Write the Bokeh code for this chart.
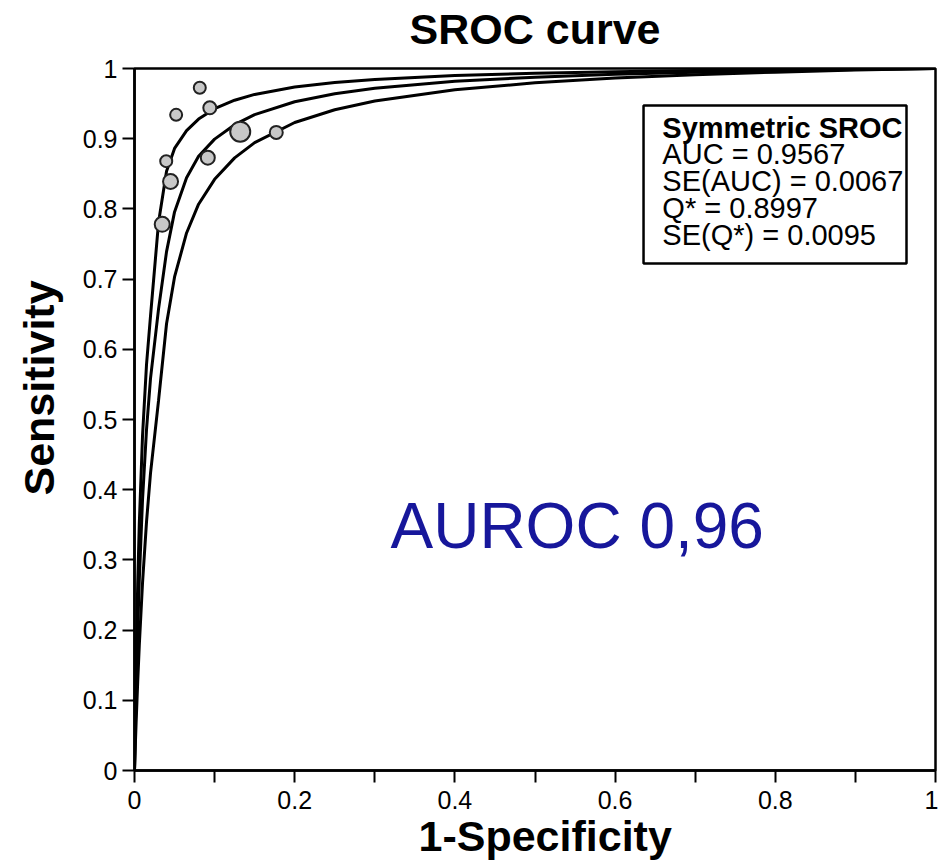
from bokeh.plotting import figure
from bokeh.models import (Range1d, FixedTicker, Label, BoxAnnotation, ColumnDataSource, Title,
                          LinearAxis)
from bokeh.embed import file_html
from bokeh.resources import INLINE

# ---- data ----
curve_fpr = [0, 0.001, 0.002, 0.004, 0.006, 0.01, 0.015, 0.02, 0.03, 0.04, 0.05, 0.065,
             0.08, 0.1, 0.125, 0.15, 0.2, 0.25, 0.3, 0.4, 0.5, 0.6, 0.7, 0.8, 0.9, 1.0]
upper_sens = [0, 0.0826, 0.1528, 0.2655, 0.3520, 0.4762, 0.5782, 0.6475, 0.7805, 0.8537,
              0.8862, 0.9114, 0.9279, 0.9427, 0.9548, 0.9631, 0.9737, 0.9801, 0.9845,
              0.9900, 0.9933, 0.9955, 0.9971, 0.9983, 0.9993, 1.0]
mid_sens = [0, 0.0584, 0.1105, 0.1994, 0.2723, 0.3851, 0.4856, 0.5586, 0.6572, 0.7391,
            0.7957, 0.8443, 0.8750, 0.8994, 0.9200, 0.9342, 0.9527, 0.9641, 0.9718,
            0.9817, 0.9877, 0.9918, 0.9947, 0.9969, 0.9986, 1.0]
lower_sens = [0, 0.0348, 0.0673, 0.1263, 0.1785, 0.2667, 0.3541, 0.4235, 0.5268, 0.6364,
              0.7031, 0.7657, 0.8067, 0.8421, 0.8727, 0.8944, 0.9231, 0.9412, 0.9536,
              0.9697, 0.9796, 0.9863, 0.9912, 0.9948, 0.9977, 1.0]

study_fpr = [0.0815, 0.094, 0.052, 0.132, 0.177, 0.0396, 0.0915, 0.045, 0.0346]
study_sens = [0.9725, 0.944, 0.934, 0.910, 0.909, 0.868, 0.873, 0.839, 0.778]
study_weight = [12, 13, 12, 20, 13, 12, 14, 15, 15]

x_ticks = [0, 0.2, 0.4, 0.6, 0.8, 1]
x_tick_labels = ["0", "0.2", "0.4", "0.6", "0.8", "1"]
x_minor_ticks = [0.1, 0.3, 0.5, 0.7, 0.9]
y_ticks = [0, 0.1, 0.2, 0.3, 0.4, 0.5, 0.6, 0.7, 0.8, 0.9, 1]
y_tick_labels = ["0", "0.1", "0.2", "0.3", "0.4", "0.5", "0.6", "0.7", "0.8", "0.9", "1"]

chart_title = "SROC curve"
x_label = "1-Specificity"
y_label = "Sensitivity"
legend_title = "Symmetric SROC"
legend_lines = ["AUC = 0.9567", "SE(AUC) = 0.0067", "Q* = 0.8997", "SE(Q*) = 0.0095"]
note_text = "AUROC 0,96"

FONT = "Liberation Sans"

p = figure(width=938, height=868, x_range=Range1d(0, 1), y_range=Range1d(0, 1),
           output_backend="svg", toolbar_location=None,
           min_border_left=134, min_border_right=3, min_border_top=68, min_border_bottom=98)

p.grid.visible = False
p.background_fill_color = "white"
p.border_fill_color = "white"
p.outline_line_color = "black"
p.outline_line_width = 2.5
p.outline_line_alpha = 1

for ax in (p.xaxis[0], p.yaxis[0]):
    ax.axis_line_width = 2.5
    ax.axis_line_color = "black"
    ax.major_tick_line_width = 2
    ax.minor_tick_line_width = 2
    ax.major_tick_line_color = "black"
    ax.minor_tick_line_color = "black"
    ax.major_tick_out = 12
    ax.major_tick_in = 0
    ax.minor_tick_out = 12
    ax.minor_tick_in = 0
    ax.major_label_text_font = FONT
    ax.major_label_text_font_size = "25px"
    ax.major_label_text_color = "black"

p.xaxis.ticker = FixedTicker(ticks=x_ticks, minor_ticks=x_minor_ticks)
p.xaxis.major_label_overrides = dict(zip(x_ticks, x_tick_labels))
p.xaxis.major_label_standoff = 8
p.yaxis.ticker = FixedTicker(ticks=y_ticks, minor_ticks=[])
p.yaxis.major_label_overrides = dict(zip(y_ticks, y_tick_labels))
p.yaxis.major_label_standoff = 5

# chart title: carried by a tick-less axis above the frame (fine control of its height)
title_axis = LinearAxis(ticker=FixedTicker(ticks=[], minor_ticks=[]), axis_label=chart_title,
                        axis_line_color=None, major_tick_out=0, major_tick_in=0,
                        minor_tick_out=0, minor_tick_in=0, major_label_text_font_size="0px",
                        major_label_standoff=0, axis_label_standoff=16,
                        axis_label_text_font=FONT, axis_label_text_font_size="43px",
                        axis_label_text_font_style="bold", axis_label_text_color="black")
p.add_layout(title_axis, "above")

# axis titles as side titles so they can be offset like in the reference
p.add_layout(Title(text=x_label, align="left", vertical_align="top", offset=284, standoff=0,
                   text_font=FONT, text_font_size="43px", text_font_style="bold",
                   text_color="black"), "below")
p.add_layout(Title(text=y_label, align="left", vertical_align="top", offset=275, standoff=29,
                   text_font=FONT, text_font_size="43px", text_font_style="bold",
                   text_color="black"), "left")

curves = ColumnDataSource(dict(x=curve_fpr, up=upper_sens, mid=mid_sens, lo=lower_sens))
for col in ("up", "mid", "lo"):
    p.line("x", col, source=curves, line_color="black", line_width=3)

pts = ColumnDataSource(dict(x=study_fpr, y=study_sens, s=study_weight))
p.scatter("x", "y", size="s", source=pts, fill_color="#c8c8c8", line_color="#222222",
          line_width=2)

# statistics box
p.add_layout(BoxAnnotation(left=0.6355, right=0.9638, top=0.9473, bottom=0.7222,
                           fill_alpha=0, line_color="black", line_alpha=1, line_width=2.5))
p.add_layout(Label(x=0.659, y=0.9152, text=legend_title, text_font=FONT,
                   text_font_size="29px", text_font_style="bold", text_color="black",
                   text_baseline="alphabetic"))
legend_y = [0.8782, 0.8397, 0.8013, 0.7628]
for t, yy in zip(legend_lines, legend_y):
    p.add_layout(Label(x=0.659, y=yy, text=t, text_font=FONT, text_font_size="29px",
                       text_color="black", text_baseline="alphabetic"))

p.add_layout(Label(x=0.3196, y=0.3476, text=note_text, text_font=FONT,
                   text_font_size="64px", text_color="#17179b", text_baseline="alphabetic"))

open("out.html", "w").write(file_html(p, INLINE))
